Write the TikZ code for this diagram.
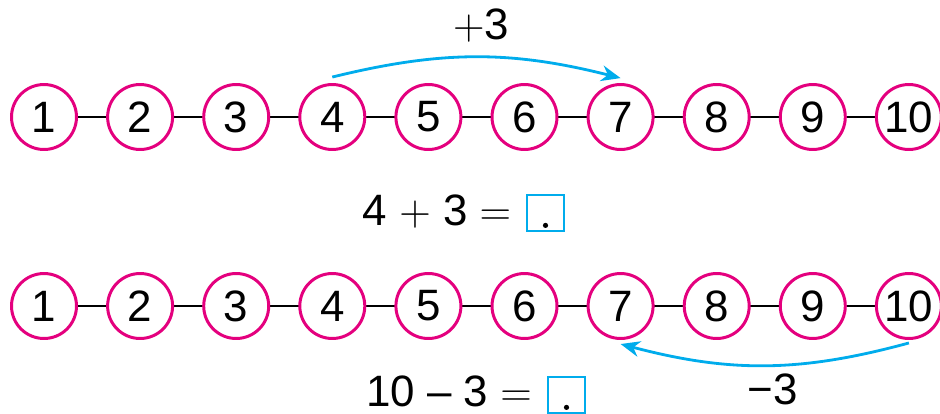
\documentclass[tikz,border=0pt]{standalone}
\usepackage{fontspec}
\setmainfont{Liberation Sans}
\usetikzlibrary{arrows.meta}
\definecolor{ringpink}{RGB}{228,0,126}
\definecolor{jumpblue}{RGB}{0,172,236}
\begin{document}
\begin{tikzpicture}[x=0.02cm, y=-0.02cm,
    ring/.style={circle, draw=ringpink, line width=1.7pt, minimum size=1.3cm, inner sep=0pt, fill=white,
        font=\fontsize{25}{28}\selectfont},
    link/.style={line width=1.2pt, black},
    jump/.style={line width=1.6pt, jumpblue, -{Stealth[length=11pt, width=9pt]}},
    sumtext/.style={inner sep=0pt, font=\fontsize{25}{28}\selectfont},
    answerbox/.style={draw=jumpblue, line width=1.3pt, minimum size=0.73cm, inner sep=0pt}]
    \useasboundingbox (0,0) rectangle (940,413);

    % Links behind the circles
    \foreach \r/\y in {t/117, b/306} {
        \draw[link] (44,\y) -- (909,\y);
    }

    % Number circles
    \foreach \i in {1,...,10} {
        \node[ring] (t\i) at ({44+96.1*(\i-1)},117) {\i};
        \node[ring] (b\i) at ({44+96.1*(\i-1)},306) {\i};
    }

    % Jumps
    \draw[jump] ([yshift=3.4pt]t4.north) to[bend left=14] ([yshift=2.8pt]t7.north);
    \draw[jump] ([yshift=-1.7pt]b10.south) to[bend left=15] ([yshift=-2.3pt]b7.south);
    \node[sumtext] (plus) at (481,26) {$+$3};
    \node[sumtext] (minus) at (773,389) {−3};

    % Sums
    \node[sumtext] (sumtop) at (437,212) {4 $+$ 3 $=$};
    \node[answerbox] (boxtop) at (545.5,213) {};
    \fill (boxtop.south) ++(0,-7) circle (2.6);
    \node[sumtext] (sumbot) at (449,391) {10 – 3 $=$};
    \node[answerbox] (boxbot) at (566.5,395) {};
    \fill (boxbot.south) ++(0,-7) circle (2.6);
\end{tikzpicture}
\end{document}
